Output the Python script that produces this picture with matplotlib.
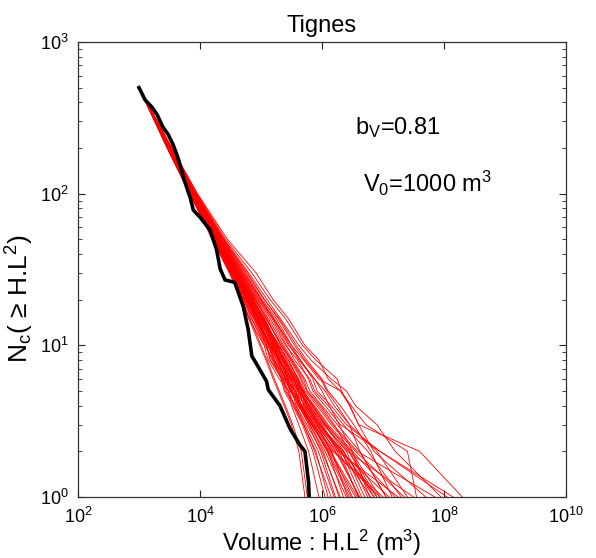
import numpy as np
import matplotlib
matplotlib.use("Agg")
import matplotlib.pyplot as plt
from matplotlib.ticker import LogLocator, NullLocator, NullFormatter

plt.rcParams['font.family'] = ['Liberation Sans', 'DejaVu Sans']
plt.rcParams['mathtext.fontset'] = 'custom'
plt.rcParams['mathtext.rm'] = 'Liberation Sans'
plt.rcParams['mathtext.it'] = 'Liberation Sans'
plt.rcParams['mathtext.bf'] = 'Liberation Sans'

# Observed cumulative counts N(>=V) for the Tignes inventory
obs_logv = [3.00, 3.10, 3.21, 3.30, 3.39, 3.48, 3.56, 3.64, 3.75, 3.84, 3.89,
            4.00, 4.16, 4.27, 4.33, 4.41, 4.57, 4.71, 4.79, 4.85, 4.93, 5.09,
            5.12, 5.31, 5.48, 5.64, 5.72, 5.78, 5.79]
obs_count = [500, 415, 373, 330, 276, 245, 210, 172, 120, 94, 78,
             70, 58, 43, 32, 27, 26, 18, 12.7, 8.5, 7.5, 5.8,
             5.1, 4.0, 2.8, 2.2, 2.0, 1.25, 1.0]

# Synthetic catalogues drawn from the fitted power law (b_V = 0.81, V0 = 1000 m3)
sim_start_logv = 3.0
sim_start_count = 500
sim_levels = [200, 100, 50, 30, 20, 15, 10, 8, 6, 5, 4, 3, 2, 1]
sim_logv = [
    [3.48, 3.86, 4.25, 4.55, 4.78, 4.90, 5.15, 5.22, 5.42, 5.55, 5.62, 5.80, 6.05, 6.40],
    [3.50, 3.88, 4.30, 4.62, 4.85, 5.05, 5.25, 5.40, 5.55, 5.60, 5.78, 5.95, 6.30, 7.10],
    [3.47, 3.84, 4.22, 4.50, 4.70, 4.80, 5.05, 5.12, 5.30, 5.45, 5.50, 5.62, 5.78, 5.95],
    [3.51, 3.90, 4.33, 4.66, 4.92, 5.08, 5.35, 5.50, 5.70, 5.76, 5.98, 6.20, 6.45, 6.90],
    [3.49, 3.87, 4.27, 4.57, 4.80, 4.96, 5.20, 5.28, 5.48, 5.62, 5.70, 5.90, 6.25, 6.60],
    [3.46, 3.83, 4.20, 4.48, 4.68, 4.82, 5.00, 5.10, 5.22, 5.30, 5.40, 5.52, 5.66, 5.76],
    [3.52, 3.92, 4.36, 4.70, 4.98, 5.20, 5.45, 5.65, 5.85, 5.92, 6.15, 6.40, 6.95, 8.05],
    [3.48, 3.85, 4.24, 4.53, 4.75, 4.92, 5.12, 5.20, 5.38, 5.52, 5.60, 5.85, 6.10, 6.35],
    [3.50, 3.89, 4.31, 4.63, 4.88, 5.02, 5.30, 5.42, 5.62, 5.70, 5.85, 6.05, 6.40, 6.75],
    [3.49, 3.86, 4.26, 4.56, 4.79, 4.98, 5.18, 5.32, 5.45, 5.50, 5.68, 5.88, 6.20, 7.00],
    [3.53, 3.93, 4.38, 4.74, 5.02, 5.25, 5.50, 5.70, 5.95, 6.30, 6.46, 6.60, 7.60, 8.30],
    [3.47, 3.85, 4.23, 4.52, 4.73, 4.85, 5.08, 5.18, 5.35, 5.40, 5.55, 5.70, 5.90, 6.10],
    [3.50, 3.88, 4.29, 4.60, 4.84, 5.00, 5.24, 5.30, 5.52, 5.66, 5.75, 5.92, 6.15, 6.50],
    [3.51, 3.90, 4.32, 4.65, 4.90, 5.10, 5.32, 5.48, 5.65, 5.72, 5.92, 6.15, 6.55, 7.35],
    [3.48, 3.86, 4.26, 4.55, 4.77, 4.90, 5.14, 5.28, 5.40, 5.48, 5.62, 5.78, 5.98, 6.22],
    [3.49, 3.87, 4.28, 4.58, 4.82, 5.00, 5.22, 5.30, 5.50, 5.66, 5.72, 5.95, 6.35, 6.85],
    [3.52, 3.91, 4.34, 4.68, 4.95, 5.15, 5.40, 5.60, 5.78, 5.85, 6.05, 6.30, 6.95, 8.15],
    [3.47, 3.84, 4.21, 4.49, 4.72, 4.88, 5.10, 5.15, 5.36, 5.50, 5.58, 5.75, 6.00, 6.30],
    [3.50, 3.89, 4.30, 4.61, 4.86, 5.06, 5.27, 5.38, 5.58, 5.62, 5.80, 6.00, 6.28, 6.60],
    [3.49, 3.87, 4.27, 4.58, 4.81, 4.96, 5.21, 5.32, 5.46, 5.60, 5.66, 5.84, 6.08, 6.45],
    [3.51, 3.89, 4.31, 4.64, 4.89, 5.05, 5.28, 5.45, 5.60, 5.68, 5.88, 6.10, 6.50, 7.20],
    [3.48, 3.85, 4.25, 4.54, 4.76, 4.95, 5.13, 5.22, 5.40, 5.56, 5.64, 5.82, 6.12, 6.55],
    [3.50, 3.88, 4.29, 4.59, 4.83, 5.02, 5.23, 5.38, 5.54, 5.62, 5.80, 6.02, 6.42, 7.50],
    [3.46, 3.83, 4.21, 4.50, 4.71, 4.84, 5.06, 5.20, 5.33, 5.38, 5.52, 5.68, 5.85, 6.05],
    [3.52, 3.91, 4.35, 4.69, 4.96, 5.18, 5.42, 5.55, 5.80, 5.88, 6.10, 6.35, 6.75, 7.30],
    [3.49, 3.86, 4.26, 4.56, 4.78, 4.92, 5.17, 5.30, 5.44, 5.56, 5.66, 5.86, 6.18, 6.95],
    [3.50, 3.88, 4.28, 4.60, 4.85, 5.04, 5.26, 5.36, 5.57, 5.70, 5.82, 6.04, 6.36, 6.70],
    [3.48, 3.86, 4.24, 4.53, 4.74, 4.90, 5.11, 5.22, 5.37, 5.42, 5.57, 5.72, 5.94, 6.20],
    [3.51, 3.90, 4.33, 4.67, 4.93, 5.12, 5.37, 5.52, 5.72, 5.80, 6.00, 6.25, 6.62, 7.05],
    [3.49, 3.87, 4.27, 4.57, 4.80, 4.98, 5.19, 5.28, 5.47, 5.62, 5.70, 5.92, 6.30, 6.80],
    [3.50, 3.89, 4.30, 4.62, 4.87, 5.04, 5.29, 5.45, 5.61, 5.68, 5.86, 6.08, 6.44, 6.85],
    [3.47, 3.85, 4.23, 4.51, 4.73, 4.88, 5.09, 5.15, 5.34, 5.46, 5.54, 5.70, 5.88, 6.15],
    [3.52, 3.92, 4.37, 4.72, 5.00, 5.22, 5.47, 5.62, 5.88, 6.05, 6.20, 6.45, 6.90, 7.40],
    [3.49, 3.86, 4.26, 4.56, 4.79, 4.94, 5.16, 5.30, 5.43, 5.50, 5.65, 5.83, 6.10, 6.48],
    [3.50, 3.88, 4.29, 4.61, 4.85, 5.02, 5.25, 5.35, 5.55, 5.70, 5.78, 5.98, 6.26, 7.25],
    [3.48, 3.85, 4.25, 4.54, 4.76, 4.93, 5.14, 5.26, 5.41, 5.48, 5.63, 5.80, 6.02, 6.28],
    [3.51, 3.90, 4.32, 4.65, 4.91, 5.08, 5.33, 5.50, 5.67, 5.75, 5.95, 6.18, 6.58, 7.85],
    [3.49, 3.87, 4.28, 4.59, 4.82, 5.00, 5.22, 5.34, 5.51, 5.64, 5.74, 5.96, 6.32, 6.65],
    [3.50, 3.88, 4.30, 4.62, 4.86, 5.04, 5.27, 5.40, 5.59, 5.66, 5.84, 6.06, 6.48, 6.95],
    [3.48, 3.86, 4.25, 4.55, 4.77, 4.92, 5.15, 5.25, 5.42, 5.58, 5.64, 5.84, 6.14, 6.58],
    [3.47, 3.84, 4.22, 4.50, 4.69, 4.80, 4.98, 5.08, 5.20, 5.28, 5.38, 5.50, 5.62, 5.72],
    [3.53, 3.93, 4.39, 4.76, 5.05, 5.30, 5.58, 5.75, 6.00, 6.10, 6.30, 6.52, 6.80, 7.15],
    [3.49, 3.87, 4.27, 4.58, 4.81, 4.98, 5.20, 5.35, 5.49, 5.55, 5.73, 5.93, 6.22, 6.62],
    [3.50, 3.88, 4.29, 4.60, 4.84, 5.03, 5.24, 5.36, 5.53, 5.68, 5.76, 5.97, 6.34, 6.90],
    [3.48, 3.86, 4.26, 4.56, 4.78, 4.95, 5.16, 5.30, 5.44, 5.52, 5.67, 5.87, 6.16, 6.42],
    [3.54, 3.95, 4.42, 4.85, 5.15, 5.40, 5.68, 5.90, 6.25, 6.32, 6.45, 6.60, 6.85, 7.70],
    [3.53, 3.94, 4.40, 4.80, 5.10, 5.32, 5.62, 5.82, 6.15, 6.40, 6.55, 6.90, 7.20, 7.95],
    [3.52, 3.93, 4.38, 4.78, 5.06, 5.28, 5.55, 5.72, 5.98, 6.08, 6.25, 6.45, 6.62, 7.05],
    [3.54, 3.96, 4.45, 4.92, 5.20, 5.45, 5.72, 5.95, 6.10, 6.30, 6.48, 6.72, 7.40, 7.55],
    [3.51, 3.91, 4.35, 4.72, 5.00, 5.20, 5.50, 5.64, 5.88, 6.00, 6.12, 6.28, 6.50, 6.78],
]

x_ticks = [1e2, 1e4, 1e6, 1e8, 1e10]

fig = plt.figure(figsize=(5.96, 5.58), dpi=100)
ax = fig.add_axes([78 / 596, 1 - 497 / 558, 488 / 596, 455 / 558])

counts = [sim_start_count] + sim_levels
for row in sim_logv:
    vols = 10.0 ** np.array([sim_start_logv] + row)
    ax.plot(vols, counts, color='red', lw=0.6, zorder=2)

ax.plot(10.0 ** np.array(obs_logv), obs_count, color='black', lw=2.6,
        solid_joinstyle='round', zorder=3)

ax.set_xscale('log')
ax.set_yscale('log')
ax.set_xlim(1e2, 1e10)
ax.set_ylim(1e0, 1e3)
ax.set_xticks(x_ticks)
ax.xaxis.set_minor_locator(NullLocator())
ax.yaxis.set_major_locator(LogLocator(base=10, numticks=10))
ax.yaxis.set_minor_locator(LogLocator(base=10, subs=np.arange(2, 10), numticks=10))
ax.yaxis.set_minor_formatter(NullFormatter())

ax.tick_params(which='both', direction='in', top=True, right=True,
               labelsize=13, colors='#222222', labelcolor='black')
ax.tick_params(which='major', length=5, width=0.8, pad=7)
ax.tick_params(which='minor', length=3, width=0.6)
for sp in ax.spines.values():
    sp.set_color('#333333')
    sp.set_linewidth(0.9)

ax.set_title('Tignes', fontsize=17, pad=7)
ax.set_xlabel(r'Volume : H.L$^\mathrm{2}$ (m$^\mathrm{3}$)', fontsize=17, labelpad=1)
ax.set_ylabel(r'N$_\mathrm{c}$( ≥ H.L$^\mathrm{2}$)', fontsize=19)
ax.yaxis.set_label_coords(-0.086, 0.435)

ax.text(0.568, 0.811, r'b$_\mathrm{V}$=0.81', transform=ax.transAxes,
        fontsize=17, va='center', ha='left')
ax.text(0.584, 0.690, r'V$_\mathrm{0}$=1000 m$^\mathrm{3}$', transform=ax.transAxes,
        fontsize=17, va='center', ha='left')

fig.savefig('out.png', dpi=100)
